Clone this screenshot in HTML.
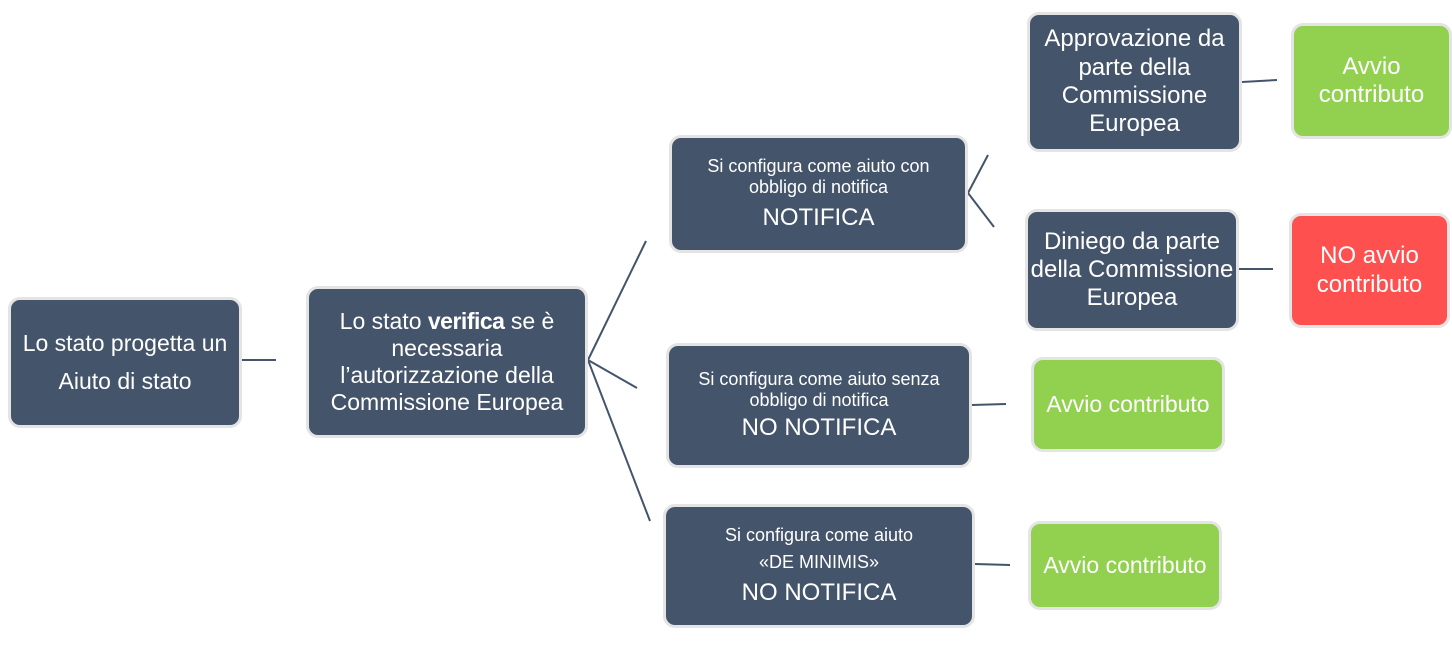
<!DOCTYPE html>
<html><head><meta charset="utf-8"><style>
body{margin:0;width:1452px;height:646px;background:#fff;position:relative;overflow:hidden;font-family:"Liberation Sans",sans-serif;}
.b{position:absolute;box-sizing:border-box;border:3px solid #e4e4e4;border-radius:12px;background:#44546A;color:#fff;display:flex;flex-direction:column;align-items:center;justify-content:center;text-align:center;line-height:1.18;}
.g{background:#92D050;}
.r{background:#FF5050;}
svg{position:absolute;left:0;top:0;}
</style></head><body>
<svg width="1452" height="646"><g stroke="#44546A" stroke-width="2" fill="none">
<line x1="242" y1="360" x2="276" y2="360"/>
<line x1="588" y1="360" x2="646" y2="241"/>
<line x1="588" y1="360" x2="637" y2="388"/>
<line x1="588" y1="360" x2="650" y2="521"/>
<line x1="968" y1="193" x2="988" y2="155"/>
<line x1="968" y1="193" x2="994" y2="227"/>
<line x1="1242" y1="82" x2="1277" y2="80"/>
<line x1="1239" y1="269" x2="1273" y2="269"/>
<line x1="972" y1="405" x2="1006" y2="404"/>
<line x1="975" y1="564" x2="1010" y2="565"/>
</g></svg>
<div class="b" style="left:8px;top:297px;width:234px;height:131px;font-size:23px;"><div>Lo stato progetta un</div><div style="margin-top:10px">Aiuto di stato</div></div>
<div class="b" style="left:306px;top:286px;width:282px;height:152px;font-size:23px;"><div>Lo stato <span style="font-weight:bold;letter-spacing:-0.5px">verifica</span> se è<br>necessaria<br>l’autorizzazione della<br>Commissione Europea</div></div>
<div class="b" style="left:669px;top:135px;width:299px;height:118px;font-size:18px;"><div>Si configura come aiuto con<br>obbligo di notifica</div><div style="font-size:24px;margin-top:6px">NOTIFICA</div></div>
<div class="b" style="left:666px;top:343px;width:306px;height:125px;font-size:18px;"><div>Si configura come aiuto senza<br>obbligo di notifica</div><div style="font-size:24px;margin-top:2px">NO NOTIFICA</div></div>
<div class="b" style="left:663px;top:504px;width:312px;height:124px;font-size:18px;"><div>Si configura come aiuto</div><div style="margin-top:6px">«DE MINIMIS»</div><div style="font-size:24px;margin-top:6px">NO NOTIFICA</div></div>
<div class="b" style="left:1027px;top:12px;width:215px;height:140px;font-size:24px;"><div>Approvazione da<br>parte della<br>Commissione<br>Europea</div></div>
<div class="b" style="left:1025px;top:209px;width:214px;height:122px;font-size:24px;"><div>Diniego da parte<br>della Commissione<br>Europea</div></div>
<div class="b g" style="left:1291px;top:23px;width:161px;height:116px;font-size:24px;"><div>Avvio<br>contributo</div></div>
<div class="b r" style="left:1289px;top:213px;width:161px;height:115px;font-size:24px;"><div>NO avvio<br>contributo</div></div>
<div class="b g" style="left:1031px;top:357px;width:194px;height:95px;font-size:23px;"><div>Avvio contributo</div></div>
<div class="b g" style="left:1028px;top:521px;width:194px;height:89px;font-size:23px;"><div>Avvio contributo</div></div>
</body></html>
